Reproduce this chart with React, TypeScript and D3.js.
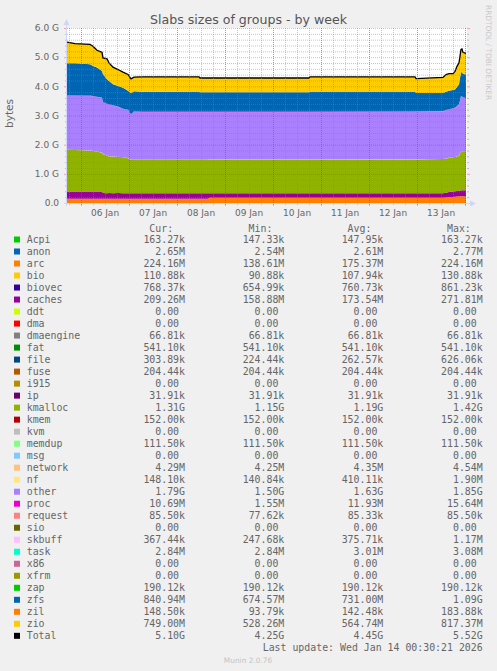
import * as d3 from 'd3';

// sample times (30 min steps, only where the graph changes)
const timeLabels = [
  '2026-01-05 17:00', '2026-01-05 21:00', '2026-01-06 04:30', '2026-01-06 06:00', '2026-01-06 08:00',
  '2026-01-06 10:30', '2026-01-06 11:00', '2026-01-06 13:00', '2026-01-06 14:00', '2026-01-06 16:00',
  '2026-01-06 18:30', '2026-01-06 21:00', '2026-01-06 23:30', '2026-01-07 01:00', '2026-01-07 02:30',
  '2026-01-07 06:00', '2026-01-08 11:00', '2026-01-08 11:30', '2026-01-08 15:30', '2026-01-08 16:00',
  '2026-01-10 18:00', '2026-01-10 18:30', '2026-01-12 23:00', '2026-01-12 23:30', '2026-01-13 13:00',
  '2026-01-13 14:30', '2026-01-13 16:00', '2026-01-13 18:00', '2026-01-13 19:00', '2026-01-13 20:00',
  '2026-01-13 21:00', '2026-01-13 22:00', '2026-01-13 22:30', '2026-01-13 23:00', '2026-01-14 00:30',
];

// big series, in GB
const arcG = [.14, .14, .14, .14, .14, .14, .14, .14, .14, .14, .14, .14, .14, .14, .14, .14, .14, .14, .14, .18, .18, .18, .18, .18, .18, .19, .2, .205, .21, .22, .23, .23, .23, .225, .224];
const cachesG = [.25, .25, .25, .25, .25, .25, .2, .19, .2, .19, .2, .19, .19, .19, .19, .19, .19, .19, .19, .15, .15, .15, .15, .15, .15, .16, .17, .185, .19, .19, .18, .205, .205, .21, .209];
const kmallocG = [1.43, 1.42, 1.4, 1.39, 1.37, 1.33, 1.33, 1.29, 1.25, 1.26, 1.24, 1.23, 1.2, 1.14, 1.14, 1.14, 1.14, 1.14, 1.14, 1.15, 1.15, 1.15, 1.16, 1.16, 1.17, 1.17, 1.17, 1.17, 1.17, 1.18, 1.2, 1.325, 1.325, 1.315, 1.31];
const otherG = [1.85, 1.86, 1.87, 1.86, 1.86, 1.87, 1.77, 1.76, 1.77, 1.74, 1.7, 1.65, 1.65, 1.55, 1.65, 1.63, 1.63, 1.63, 1.63, 1.62, 1.62, 1.62, 1.62, 1.63, 1.63, 1.64, 1.65, 1.66, 1.68, 1.71, 1.75, 1.88, 1.87, 1.86, 1.82];
const procG = [.012, .012, .012, .012, .012, .012, .012, .012, .012, .012, .012, .012, .012, .012, .012, .012, .012, .012, .012, .012, .012, .012, .012, .0016, .0016, .011, .011, .011, .011, .011, .011, .011, .011, .011, .011];
const zfsG = [1.1, 1.1, 1.07, 1.03, 1, .91, .95, .84, .8, .72, .71, .72, .64, .72, .69, .69, .68, .67, .67, .67, .67, .68, .67, .64, .63, .63, .63, .63, .62, .65, .69, .83, .82, .8, .81];
const zioG = [.72, .67, .68, .68, .59, .64, .56, .7, .62, .58, .56, .53, .56, .49, .48, .51, .52, .49, .49, .49, .49, .52, .52, .49, .53, .59, .59, .56, .62, .71, .73, .77, .81, .73, .73];

// tiny groups, nearly flat all week (GB)
const steadyNames = ['Acpi', 'anon', 'bio', 'biovec', 'ddt', 'dma', 'dmaengine', 'fat', 'file', 'fuse', 'i915', 'ip', 'kmem', 'kvm', 'memdup', 'msg', 'network', 'nf', 'request', 'sio', 'skbuff', 'task', 'x86', 'xfrm', 'zap', 'zil'];
const steadyG = [.00015, .0026, .0001, .00076, 0, 0, .00007, .00054, .00026, .0002, 0, .00003, .00015, 0, .00011, 0, .0044, .0004, .00009, 0, .0004, .003, 0, 0, .00019, .00014];

const legendNames = ['Acpi', 'anon', 'arc', 'bio', 'biovec', 'caches', 'ddt', 'dma', 'dmaengine', 'fat', 'file', 'fuse', 'i915', 'ip', 'kmalloc', 'kmem', 'kvm', 'memdup', 'msg', 'network', 'nf', 'other', 'proc', 'request', 'sio', 'skbuff', 'task', 'x86', 'xfrm', 'zap', 'zfs', 'zil', 'zio', 'Total'];
const legendColors = ['#00CC00', '#0066B3', '#FF8000', '#FFCC00', '#330099', '#990099', '#CCFF00', '#FF0000', '#808080', '#008F00', '#00487D', '#B35A00', '#B38F00', '#6B006B', '#8FB300', '#B30000', '#BEBEBE', '#80FF80', '#80C9FF', '#FFC080', '#FFE680', '#AA80FF', '#EE00CC', '#FF8080', '#666600', '#FFBFFF', '#00FFCC', '#CC6699', '#999900', '#00CC00', '#0066B3', '#FF8000', '#FFCC00', '#000000'];
const curText = ['163.27k', '2.65M', '224.16M', '110.88k', '768.37k', '209.26M', '0.00', '0.00', '66.81k', '541.10k', '303.89k', '204.44k', '0.00', '31.91k', '1.31G', '152.00k', '0.00', '111.50k', '0.00', '4.29M', '148.10k', '1.79G', '10.69M', '85.50k', '0.00', '367.44k', '2.84M', '0.00', '0.00', '190.12k', '840.94M', '148.50k', '749.00M', '5.10G'];
const minText = ['147.33k', '2.54M', '138.61M', '90.88k', '654.99k', '158.88M', '0.00', '0.00', '66.81k', '541.10k', '224.44k', '204.44k', '0.00', '31.91k', '1.15G', '152.00k', '0.00', '111.50k', '0.00', '4.25M', '140.84k', '1.50G', '1.55M', '77.62k', '0.00', '247.68k', '2.84M', '0.00', '0.00', '190.12k', '674.57M', '93.79k', '528.26M', '4.25G'];
const avgText = ['147.95k', '2.61M', '175.37M', '107.94k', '760.73k', '173.54M', '0.00', '0.00', '66.81k', '541.10k', '262.57k', '204.44k', '0.00', '31.91k', '1.19G', '152.00k', '0.00', '111.50k', '0.00', '4.35M', '410.11k', '1.63G', '11.93M', '85.33k', '0.00', '375.71k', '3.01M', '0.00', '0.00', '190.12k', '731.00M', '142.48k', '564.74M', '4.45G'];
const maxText = ['163.27k', '2.77M', '224.16M', '130.88k', '861.23k', '271.81M', '0.00', '0.00', '66.81k', '541.10k', '626.06k', '204.44k', '0.00', '31.91k', '1.42G', '152.00k', '0.00', '111.50k', '0.00', '4.54M', '1.90M', '1.85G', '15.64M', '85.50k', '0.00', '1.17M', '3.08M', '0.00', '0.00', '190.12k', '1.09G', '183.88k', '817.37M', '5.52G'];

const W = 497;
const H = 671;
const left = 67;
const right = 467;
const top = 28;
const bottom = 203;
const FONT = '#666666';
const MONO = 'DejaVu Sans Mono';
const CH = 5.95;

const parse = d3.timeParse('%Y-%m-%d %H:%M');

const variable: Record<string, number[]> = {
  arc: arcG,
  caches: cachesG,
  kmalloc: kmallocG,
  other: otherG,
  proc: procG,
  zfs: zfsG,
  zio: zioG,
};

type Row = { date: Date; [k: string]: any };

export default function App() {
  const seriesNames = legendNames.slice(0, -1);
  const rows: Row[] = timeLabels.map((t, i) => {
    const r: Row = { date: parse(t) as Date };
    seriesNames.forEach((n) => {
      r[n] = variable[n] ? variable[n][i] : steadyG[steadyNames.indexOf(n)];
    });
    return r;
  });

  const x = d3.scaleTime()
    .domain([parse('2026-01-05 17:00') as Date, parse('2026-01-14 01:00') as Date])
    .range([left, right]);
  const y = d3.scaleLinear().domain([0, 6]).range([bottom, top]);

  const stacked = d3.stack<Row>().keys(seriesNames)(rows);
  const area = d3.area<any>()
    .x((d) => x(d.data.date))
    .y0((d) => y(d[0]))
    .y1((d) => y(d[1]));
  const totalLine = d3.line<Row>()
    .x((d) => x(d.date))
    .y((d) => y(d3.sum(seriesNames, (n) => d[n])));

  const minorY = y.ticks(30);
  const majorY = y.ticks(6);
  const minorX = x.ticks(d3.timeHour.every(6) as any);
  const majorX = x.ticks(d3.timeDay.every(1) as any);
  const dayLabels = majorX.map((d) => d3.timeHour.offset(d, 12)).filter((d) => x(d) < right);
  const fmtDay = d3.timeFormat('%d %b');
  const gridMinor = 'rgba(130,130,130,0.45)';
  const gridMajor = 'rgba(255,0,0,0.32)';

  const rowY = (i: number) => 239.3 + i * 12.01;
  const valueX = [185, 284.3, 383.3, 482.7];
  const cols = [curText, minText, avgText, maxText];
  const endX = (base: number, s: string) => (/[kMG]$/.test(s) ? base : base - CH);

  return (
    <svg width={W} height={H} style={{ position: 'absolute', left: 0, top: 0 }} fontFamily="DejaVu Sans">
      <rect width={W} height={H} fill="#F0F0F0" />
      <text x={248.5} y={23.5} textAnchor="middle" fontSize={12.6} fill="#555">
        Slabs sizes of groups - by week
      </text>
      <text transform="translate(486,5) rotate(90)" fontSize={7.4} fill="#C8C8C8">
        RRDTOOL / TOBI OETIKER
      </text>
      <text transform="translate(13,113.5) rotate(-90)" textAnchor="middle" fontSize={10.5} fill={FONT}>
        bytes
      </text>

      <rect x={left} y={top} width={right - left} height={bottom - top} fill="#FFFFFF" />

      {stacked.map((s, i) => (
        <path key={s.key} d={area(s) || ''} fill={legendColors[i]} />
      ))}
      <path d={totalLine(rows) || ''} fill="none" stroke="#000" strokeWidth={1.3} />

      {minorY.filter((v) => !majorY.includes(v)).map((v) => (
        <g key={'my' + v}>
          <line x1={left} x2={right} y1={y(v) + 0.5} y2={y(v) + 0.5} stroke={gridMinor} strokeDasharray="1,1" />
          <line x1={left - 2} x2={left} y1={y(v) + 0.5} y2={y(v) + 0.5} stroke={gridMinor} />
          <line x1={right} x2={right + 2} y1={y(v) + 0.5} y2={y(v) + 0.5} stroke={gridMinor} />
        </g>
      ))}
      {minorX.map((d) => (
        <g key={'mx' + d.getTime()}>
          <line x1={x(d) + 0.5} x2={x(d) + 0.5} y1={top} y2={bottom} stroke={gridMinor} strokeDasharray="1,1" />
          <line x1={x(d) + 0.5} x2={x(d) + 0.5} y1={bottom} y2={bottom + 2} stroke={gridMinor} />
        </g>
      ))}
      {majorY.map((v) => (
        <g key={'My' + v}>
          <line x1={left} x2={right} y1={y(v) + 0.5} y2={y(v) + 0.5} stroke={gridMajor} strokeDasharray="1,1" />
          <line x1={left - 3} x2={left} y1={y(v) + 0.5} y2={y(v) + 0.5} stroke={gridMajor} />
          <line x1={right} x2={right + 3} y1={y(v) + 0.5} y2={y(v) + 0.5} stroke={gridMajor} />
          <text x={59} y={y(v) + 3.3} textAnchor="end" fontSize={9} fill={FONT}>
            {v === 0 ? '0.0' : `${v.toFixed(1)} G`}
          </text>
        </g>
      ))}
      {majorX.map((d) => (
        <g key={'Mx' + d.getTime()}>
          <line x1={x(d) + 0.5} x2={x(d) + 0.5} y1={top} y2={bottom} stroke={gridMajor} strokeDasharray="1,1" />
          <line x1={x(d) + 0.5} x2={x(d) + 0.5} y1={bottom} y2={bottom + 3} stroke={gridMajor} />
        </g>
      ))}
      {dayLabels.map((d) => (
        <text key={'dl' + d.getTime()} x={x(d)} y={216} textAnchor="middle" fontSize={9} fill={FONT}>
          {fmtDay(d)}
        </text>
      ))}

      {/* axes with arrows */}
      <line x1={left - 0.5} x2={left - 0.5} y1={bottom + 3} y2={top - 4} stroke="#CFD6F8" />
      <line x1={left - 3} x2={right + 4} y1={bottom + 0.5} y2={bottom + 0.5} stroke="#CFD6F8" />
      <path d={`M${left - 3.5},${top - 3} L${left - 0.5},${top - 9} L${left + 2.5},${top - 3} Z`} fill="#CFD6F8" />
      <path d={`M${right + 3},${bottom - 2.5} L${right + 9},${bottom + 0.5} L${right + 3},${bottom + 3.5} Z`} fill="#CFD6F8" />

      {/* legend */}
      <g fontFamily={MONO} fontSize={9.9} fill={FONT}>
        {['Cur:', 'Min:', 'Avg:', 'Max:'].map((h, k) => (
          <text key={h} x={valueX[k] - 2 * CH} y={228.3 + 3.5} textAnchor="end">{h}</text>
        ))}
        {legendNames.map((n, i) => (
          <g key={n}>
            <rect x={14} y={rowY(i) - 2.8} width={6} height={6} fill={legendColors[i]} />
            <text x={26.7} y={rowY(i) + 3.5}>{n}</text>
            {cols.map((c, k) => (
              <text key={k} x={endX(valueX[k], c[i])} y={rowY(i) + 3.5} textAnchor="end">{c[i]}</text>
            ))}
          </g>
        ))}
        <text x={482.7} y={647.7 + 3.5} textAnchor="end">Last update: Wed Jan 14 00:30:21 2026</text>
      </g>
      <text x={248} y={662.5} textAnchor="middle" fontSize={7.4} fill="#C4C4C4">Munin 2.0.76</text>
    </svg>
  );
}
